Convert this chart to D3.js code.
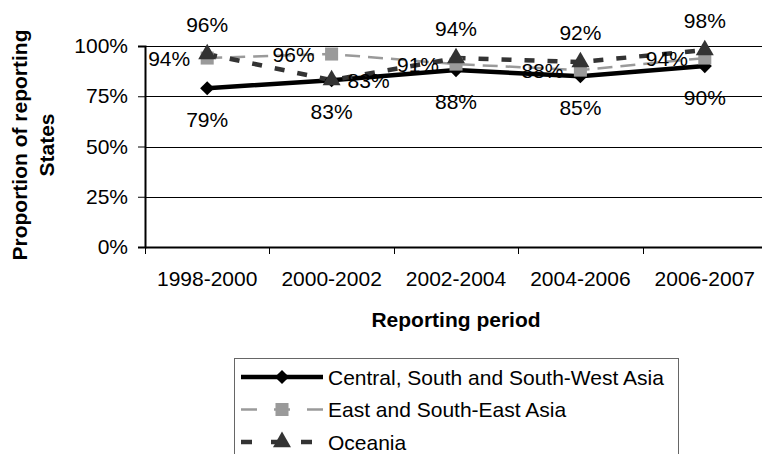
<!DOCTYPE html>
<html lang="en">
<head>
    <meta charset="UTF-8">
    <title>Proportion of reporting States</title>
    <script src="https://d3js.org/d3.v7.min.js"></script>
    <style>
        body {
            margin: 0;
            padding: 0;
            background-color: #fff;
            font-family: "Liberation Sans", Arial, sans-serif;
        }
        svg { display: block; }
        .data-label { font-size: 21px; fill: #000; }
        .axis-title { font-size: 21px; font-weight: bold; fill: #000; }
    </style>
</head>
<body>
    <div id="chart"></div>

    <script>
        // Data
        const periods = ["1998-2000", "2000-2002", "2002-2004", "2004-2006", "2006-2007"];
        const centralValues = [79, 83, 88, 85, 90];
        const eastValues = [94, 96, 91, 88, 94];
        const oceaniaValues = [96, 83, 94, 92, 98];
        const yTicks = [0, 25, 50, 75, 100];

        // where each data label sits relative to its point
        const centralLabelPos = ["below", "below", "below", "below", "below"];
        const eastLabelPos = ["left", "left", "left", "left", "left"];
        const oceaniaLabelPos = ["above", "right", "above", "above", "above"];

        // square rotated 45deg, as in the Excel diamond marker
        const diamond = {
            draw(ctx, size) {
                const r = Math.sqrt(size / 2);
                ctx.moveTo(0, -r);
                ctx.lineTo(r, 0);
                ctx.lineTo(0, r);
                ctx.lineTo(-r, 0);
                ctx.closePath();
            }
        };

        const series = [
            { name: "Central, South and South-West Asia", values: centralValues, labelPos: centralLabelPos,
              color: "#000", width: 4.5, dash: null, legendDash: null,
              marker: diamond, markerSize: 100, markerColor: "#000" },
            { name: "East and South-East Asia", values: eastValues, labelPos: eastLabelPos,
              color: "#9a9a9a", width: 2.5, dash: "15,8", legendDash: "16,17",
              marker: d3.symbolSquare, markerSize: 170, markerColor: "#9a9a9a" },
            { name: "Oceania", values: oceaniaValues, labelPos: oceaniaLabelPos,
              color: "#333", width: 4.5, dash: "10,13", legendDash: "11,19",
              marker: d3.symbolTriangle, markerSize: 140, markerColor: "#333" }
        ];

        const W = 762, H = 454;
        const plot = { left: 145, right: 767, top: 46, bottom: 247 };

        const svg = d3.select("#chart")
            .append("svg")
            .attr("width", W)
            .attr("height", H);

        const xScale = d3.scaleBand()
            .domain(periods)
            .range([plot.left, plot.right]);

        const yScale = d3.scaleLinear()
            .domain([0, 100])
            .range([plot.bottom, plot.top]);

        const xc = d => xScale(d) + xScale.bandwidth() / 2;

        // gridlines
        svg.append("g")
            .selectAll("line")
            .data(yTicks.filter(t => t > 0))
            .enter()
            .append("line")
            .attr("x1", plot.left)
            .attr("x2", plot.right)
            .attr("y1", d => Math.round(yScale(d)) + 0.5)
            .attr("y2", d => Math.round(yScale(d)) + 0.5)
            .attr("stroke", "#000")
            .attr("stroke-width", 1);

        // y axis
        const yAxis = svg.append("g")
            .attr("transform", `translate(${plot.left},0)`)
            .call(d3.axisLeft(yScale).tickValues(yTicks).tickSize(7).tickPadding(10).tickFormat(d => d + "%"));
        yAxis.select(".domain").attr("stroke", "#000").attr("stroke-width", 2);
        yAxis.selectAll(".tick line").attr("stroke", "#000");
        yAxis.selectAll(".tick text")
            .style("font-family", "'Liberation Sans', Arial, sans-serif")
            .style("font-size", "21px")
            .attr("fill", "#000");

        // x axis
        const xAxis = svg.append("g")
            .attr("transform", `translate(0,${plot.bottom})`)
            .call(d3.axisBottom(xScale).tickSize(0).tickPadding(24));
        xAxis.select(".domain").attr("stroke", "#000").attr("stroke-width", 2);
        xAxis.selectAll(".tick text")
            .style("font-family", "'Liberation Sans', Arial, sans-serif")
            .style("font-size", "21px")
            .attr("fill", "#000");

        // x tick marks at category boundaries
        const bounds = periods.map(p => xScale(p)).concat([plot.right]);
        svg.append("g")
            .selectAll("line")
            .data(bounds)
            .enter()
            .append("line")
            .attr("x1", d => Math.round(d) + 0.5)
            .attr("x2", d => Math.round(d) + 0.5)
            .attr("y1", plot.bottom)
            .attr("y2", plot.bottom + 7)
            .attr("stroke", "#000");

        // axis titles
        svg.append("text")
            .attr("class", "axis-title")
            .attr("x", (plot.left + plot.right) / 2)
            .attr("y", 327)
            .attr("text-anchor", "middle")
            .text("Reporting period");

        const yTitle = svg.append("text")
            .attr("class", "axis-title")
            .attr("transform", "translate(27,145) rotate(-90)")
            .attr("text-anchor", "middle");
        yTitle.append("tspan").attr("x", 0).attr("y", 0).text("Proportion of reporting");
        yTitle.append("tspan").attr("x", 0).attr("y", 27).text("States");

        // lines
        const line = d3.line()
            .x((d, i) => xc(periods[i]))
            .y(d => yScale(d));

        series.forEach(s => {
            svg.append("path")
                .datum(s.values)
                .attr("d", line)
                .attr("fill", "none")
                .attr("stroke", s.color)
                .attr("stroke-width", s.width)
                .attr("stroke-dasharray", s.dash);
        });

        // markers
        series.forEach(s => {
            svg.append("g")
                .selectAll("path")
                .data(s.values)
                .enter()
                .append("path")
                .attr("d", d3.symbol().type(s.marker).size(s.markerSize))
                .attr("transform", (d, i) => `translate(${xc(periods[i])},${yScale(d)})`)
                .attr("fill", s.markerColor);
        });

        // data labels
        const offsets = {
            below: { dx: 0, dy: 31 },
            above: { dx: 0, dy: -30 },
            left: { dx: -38, dy: 0 },
            right: { dx: 37, dy: 0 }
        };
        series.forEach(s => {
            svg.append("g")
                .selectAll("text")
                .data(s.values)
                .enter()
                .append("text")
                .attr("class", "data-label")
                .attr("x", (d, i) => xc(periods[i]) + offsets[s.labelPos[i]].dx)
                .attr("y", (d, i) => yScale(d) + offsets[s.labelPos[i]].dy)
                .attr("text-anchor", "middle")
                .attr("dominant-baseline", "central")
                .text(d => d + "%");
        });

        // legend
        const legend = svg.append("g").attr("transform", "translate(234,358)");
        legend.append("rect")
            .attr("x", 0.5)
            .attr("y", 0.5)
            .attr("width", 444)
            .attr("height", 120)
            .attr("fill", "#fff")
            .attr("stroke", "#666");

        const items = legend.selectAll(".legend-item")
            .data(series)
            .enter()
            .append("g")
            .attr("class", "legend-item")
            .attr("transform", (d, i) => `translate(0,${19 + i * 32.5})`);

        items.append("line")
            .attr("x1", 7)
            .attr("x2", 89)
            .attr("stroke", d => d.color)
            .attr("stroke-width", d => d.width)
            .attr("stroke-dasharray", d => d.legendDash);

        items.append("path")
            .attr("d", d => d3.symbol().type(d.marker).size(d.markerSize)())
            .attr("transform", "translate(48,0)")
            .attr("fill", d => d.markerColor);

        items.append("text")
            .attr("class", "data-label")
            .attr("x", 94)
            .attr("dominant-baseline", "central")
            .text(d => d.name);
    </script>
</body>
</html>
